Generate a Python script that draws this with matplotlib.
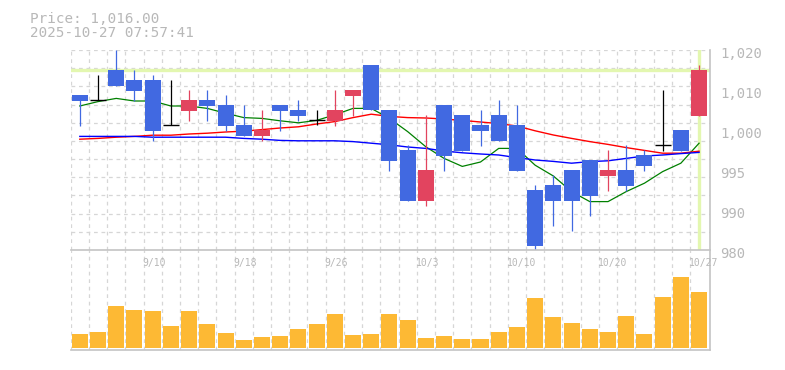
import matplotlib
matplotlib.use('Agg')
import matplotlib.pyplot as plt
import matplotlib.transforms as mtransforms

# ---------------- data ----------------
dates = ['9/4', '9/5', '9/8', '9/9', '9/10', '9/11', '9/12', '9/16', '9/17', '9/18',
         '9/19', '9/22', '9/24', '9/25', '9/26', '9/29', '9/30', '10/1', '10/2', '10/3',
         '10/6', '10/7', '10/8', '10/9', '10/10', '10/14', '10/15', '10/16', '10/17', '10/20',
         '10/21', '10/22', '10/23', '10/24', '10/27']
label_dates = ['9/10', '9/18', '9/26', '10/3', '10/10', '10/20', '10/27']

opens = [1009.75, 1008.4, 1016.0, 1013.5, 1013.5, 1002.2, 1005.8, 1008.5, 1007.25, 1002.25,
         999.6, 1007.25, 1006.0, 1003.4, 1003.3, 1009.6, 1017.25, 1006.0, 996.0, 983.3,
         1007.25, 1004.75, 1002.25, 1004.75, 1002.25, 986.0, 987.25, 991.0, 993.5, 989.6,
         991.0, 994.75, 997.25, 1001.0, 1004.6]
highs = [1009.75, 1014.75, 1021.0, 1016.0, 1014.75, 1013.5, 1011.0, 1011.0, 1009.75, 1007.25,
         1006.0, 1007.25, 1008.5, 1006.0, 1011.0, 1011.0, 1017.25, 1006.0, 997.25, 1004.75,
         1007.25, 1004.75, 1006.0, 1008.5, 1007.25, 987.25, 989.75, 991.0, 993.5, 996.0,
         997.25, 996.0, 1011.0, 1001.0, 1017.25]
lows = [1002.1, 1008.4, 1012.1, 1008.25, 998.3, 1002.2, 1003.25, 1003.25, 1000.75, 999.6,
        998.3, 1000.8, 1003.25, 1002.2, 1002.1, 1004.6, 1006.0, 990.8, 983.3, 982.1,
        990.8, 995.8, 997.1, 998.3, 990.8, 971.0, 977.1, 975.8, 979.6, 985.8,
        985.8, 990.8, 995.8, 995.8, 1004.6]
closes = [1008.25, 1008.4, 1012.1, 1010.8, 1000.8, 1002.2, 1008.5, 1007.1, 1002.1, 999.6,
          1001.0, 1005.8, 1004.6, 1003.4, 1006.0, 1011.0, 1006.0, 993.3, 983.3, 991.0,
          994.6, 995.8, 1000.8, 998.3, 990.8, 972.1, 983.3, 983.3, 984.6, 991.0,
          987.1, 992.1, 997.25, 995.8, 1016.0]

ma_short = [1007.0, 1008.1, 1008.9, 1008.25, 1008.25, 1007.0, 1007.0, 1006.4, 1005.2, 1004.1,
            1003.9, 1003.3, 1002.8, 1003.4, 1004.8, 1006.4, 1006.4, 1003.9, 1000.6, 996.8,
            993.9, 991.9, 993.0, 996.4, 996.4, 992.2, 989.5, 985.6, 983.1, 983.1,
            985.6, 987.7, 990.6, 992.7, 997.7]
ma_mid = [998.7, 998.9, 999.2, 999.4, 999.7, 999.7, 1000.0, 1000.2, 1000.5, 1000.7,
          1001.1, 1001.5, 1001.8, 1002.5, 1003.1, 1004.1, 1004.95, 1004.4, 1004.1, 1004.0,
          1003.75, 1003.4, 1003.0, 1002.6, 1002.0, 1000.8, 999.75, 998.9, 998.1, 997.4,
          996.6, 995.9, 995.2, 995.2, 995.7]
ma_long = [999.4, 999.4, 999.4, 999.4, 999.2, 999.2, 999.2, 999.2, 999.2, 998.9,
           998.7, 998.4, 998.3, 998.3, 998.3, 998.1, 997.7, 997.3, 996.75, 996.4,
           995.75, 995.3, 995.0, 994.75, 994.1, 993.5, 993.15, 992.7, 993.1, 993.3,
           993.9, 994.5, 994.75, 995.1, 995.4]

volumes = [137, 157, 417, 377, 367, 217, 367, 237, 147, 77,
           107, 120, 187, 237, 337, 127, 137, 337, 277, 97,
           117, 87, 87, 157, 207, 497, 307, 247, 187, 157,
           317, 137, 507, 707, 557]

current_price = 1016.0
price_tick_values = [1020, 1010, 1000, 990, 980, 970]
price_tick_labels = ['1,020', '1,010', '1,000', '995', '990', '980']
title_line1 = 'Price: 1,016.00'
title_line2 = '2025-10-27 07:57:41'

# ---------------- styles ----------------
W, H = 785, 370
UP = '#E2445F'
DOWN = '#4169E1'
DOJI = '#000000'
VOL = '#FDB934'
GRID = '#d6d6d6'
BORDER = '#c4c4c4'
TXT = '#b8b8b8'
YEL = '#e3f7b0'
MONO = 'DejaVu Sans Mono'

fig = plt.figure(figsize=(W / 100, H / 100), dpi=100)
left_px, right_px = 70.7, 710.0
axp = fig.add_axes([left_px / W, (H - 250) / H, (right_px - left_px) / W, 200 / H])
axv = fig.add_axes([left_px / W, (H - 350) / H, (right_px - left_px) / W, 100 / H])

n = len(dates)
x = list(range(n))
xmin, xmax = -0.5, n - 0.4

# price panel
axp.set_xlim(xmin, xmax)
axp.set_ylim(971, 1021)
for k in range(1, 12):
    axp.axhline(971 + k * 50 / 11, color=GRID, lw=0.9, ls=(0, (3, 3)), zorder=0)
for i in range(n):
    axp.axvline(i - 0.5, color=GRID, lw=0.9, ls=(0, (3, 3)), zorder=0)
    axv.axvline(i - 0.5, color=GRID, lw=0.9, ls=(0, (3, 3)), zorder=0)

axp.axhline(current_price, color=YEL, lw=2.4, zorder=0.5)
axp.axvline(x[-1], color=YEL, lw=2.4, zorder=0.5)

axp.plot(x, ma_short, color='#008000', lw=0.9, zorder=1)
axp.plot(x, ma_mid, color='#ff0000', lw=1.0, zorder=1)
axp.plot(x, ma_long, color='#0000ff', lw=1.0, zorder=1)

bw = 0.88
for i in range(n):
    o, h, l, c = opens[i], highs[i], lows[i], closes[i]
    if c > o:
        col = UP
    elif c < o:
        col = DOWN
    else:
        col = DOJI
    axp.vlines(i, l, h, color=col, lw=0.9, zorder=2)
    if c == o:
        axp.hlines(o, i - bw / 2, i + bw / 2, color=col, lw=1.0, zorder=3)
    else:
        axp.bar(i, abs(c - o), bottom=min(o, c), width=bw, color=col, zorder=3, linewidth=0)

for s in ['top', 'left', 'bottom']:
    axp.spines[s].set_visible(False)
axp.spines['right'].set_color(BORDER)
axp.spines['right'].set_linewidth(1.2)
axp.set_xticks([])
axp.set_yticks([])

trans_lbl = mtransforms.blended_transform_factory(axp.transAxes, axp.transData)
trans_lbl = mtransforms.offset_copy(trans_lbl, fig=fig, x=10.5, y=-4.3, units='dots')
for v, lab in zip(price_tick_values, price_tick_labels):
    axp.text(1.0, v, lab, transform=trans_lbl, ha='left', va='baseline',
             fontsize=10, color=TXT, family=MONO, clip_on=False)

# volume panel
axv.set_xlim(xmin, xmax)
axv.set_ylim(-23, 977)
axv.bar(x, volumes, width=bw, color=VOL, linewidth=0, zorder=2)
axv.spines['left'].set_visible(False)
for s in ['top', 'bottom', 'right']:
    axv.spines[s].set_color(BORDER)
    axv.spines[s].set_linewidth(1.2)
axv.set_xticks([])
axv.set_yticks([])

trans_d = mtransforms.blended_transform_factory(axv.transData, axv.transAxes)
trans_d = mtransforms.offset_copy(trans_d, fig=fig, x=-10.5, y=0, units='dots')
for d in label_dates:
    i = dates.index(d)
    axv.text(i, 0.843, d, transform=trans_d, ha='left', va='baseline',
             fontsize=7, color=TXT, family=MONO, clip_on=False, zorder=5)

fig.text(30 / W, 1 - 22.7 / H, title_line1, ha='left', va='baseline',
         fontsize=10.3, color=TXT, family=MONO)
fig.text(30 / W, 1 - 37.3 / H, title_line2, ha='left', va='baseline',
         fontsize=10.3, color=TXT, family=MONO)

fig.savefig('out.png', dpi=100)
